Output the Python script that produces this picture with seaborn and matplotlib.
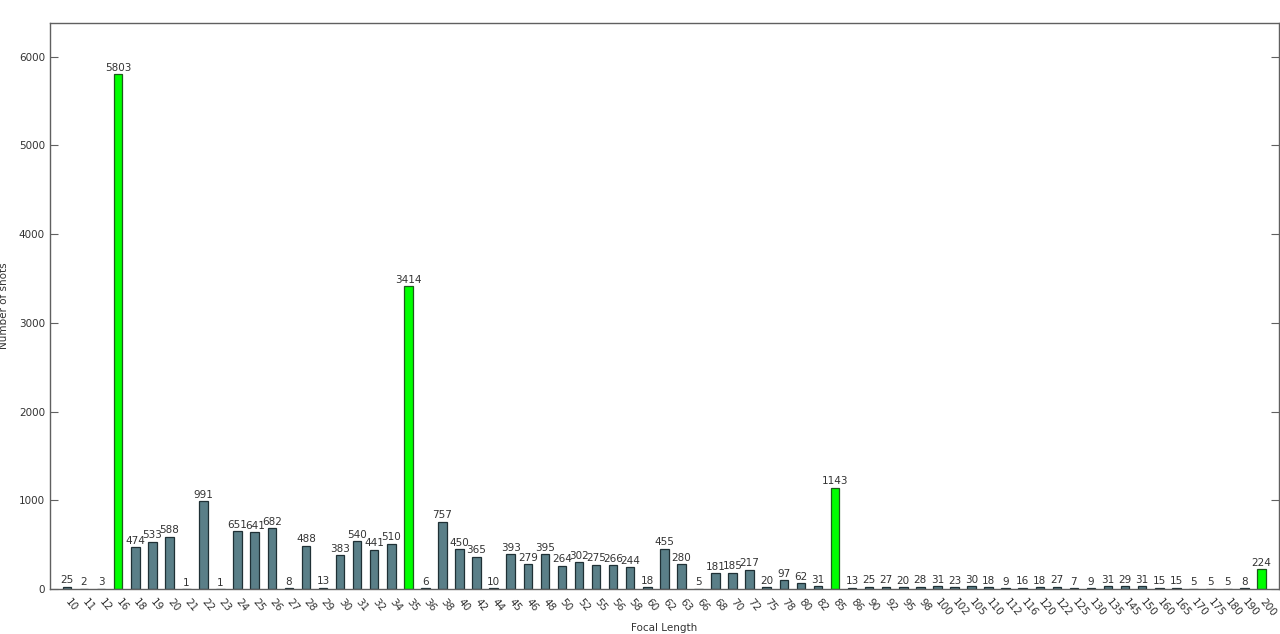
import numpy as np
import pandas as pd
import matplotlib
matplotlib.use("Agg")
import matplotlib.pyplot as plt
import seaborn as sns

focal = ["10", "11", "12", "16", "18", "19", "20", "21", "22", "23",
         "24", "25", "26", "27", "28", "29", "30", "31", "32", "34",
         "35", "36", "38", "40", "42", "44", "45", "46", "48", "50",
         "52", "55", "56", "58", "60", "62", "63", "66", "68", "70",
         "72", "75", "78", "80", "82", "85", "86", "90", "92", "95",
         "98", "100", "102", "105", "110", "112", "116", "120", "122", "125",
         "130", "135", "145", "150", "160", "165", "170", "175", "180", "190",
         "200"]
shots = [25, 2, 3, 5803, 474, 533, 588, 1, 991, 1,
         651, 641, 682, 8, 488, 13, 383, 540, 441, 510,
         3414, 6, 757, 450, 365, 10, 393, 279, 395, 264,
         302, 275, 266, 244, 18, 455, 280, 5, 181, 185,
         217, 20, 97, 62, 31, 1143, 13, 25, 27, 20,
         28, 31, 23, 30, 18, 9, 16, 18, 27, 7,
         9, 31, 29, 31, 15, 15, 5, 5, 5, 8,
         224]
highlight = ["16", "35", "85", "200"]  # green bars

df = pd.DataFrame({"focal": focal, "shots": shots})
colors = ["#00ff00" if f in highlight else "#5a7f88" for f in focal]
edges = ["#1c5a1c" if f in highlight else "#1f3035" for f in focal]

sns.set_style("white")
plt.rcParams['font.family'] = ['DejaVu Sans']

fig = plt.figure(figsize=(12.8, 6.34), dpi=100)
ax = fig.add_axes([0.039, 0.071, 0.96, 0.893])

sns.barplot(data=df, x="focal", y="shots", hue="focal", palette=colors,
            legend=False, width=0.5, ax=ax, saturation=1)

for patch, ec in zip(ax.patches, edges):
    patch.set_edgecolor(ec)
    patch.set_linewidth(0.9)

for cont in ax.containers:
    ax.bar_label(cont, fmt="%d", fontsize=7.5, color="#333333", padding=1)

ax.set_xlim(-1, len(focal))
ax.set_ylim(0, 6383)
ax.set_yticks([0, 1000, 2000, 3000, 4000, 5000, 6000])
ax.tick_params(axis="y", direction="in", length=6, labelsize=7.5,
               colors="#606060", labelcolor="#333333", right=True, left=True)
ax.tick_params(axis="x", direction="out", length=5, labelsize=7.5, pad=3,
               colors="#606060", labelcolor="#333333")
plt.setp(ax.get_xticklabels(), rotation=-50, ha="left", va="center",
         rotation_mode="anchor")

for s in ax.spines.values():
    s.set_color("#606060")
    s.set_linewidth(1.0)

ax.set_xlabel("Focal Length", fontsize=7.5, color="#333333")
ax.set_ylabel("Number of shots", fontsize=7.5, color="#333333")
ax.xaxis.set_label_coords(0.5, -0.060)
ax.yaxis.set_label_coords(-0.0334, 0.5)

fig.savefig("out.png", dpi=100)
